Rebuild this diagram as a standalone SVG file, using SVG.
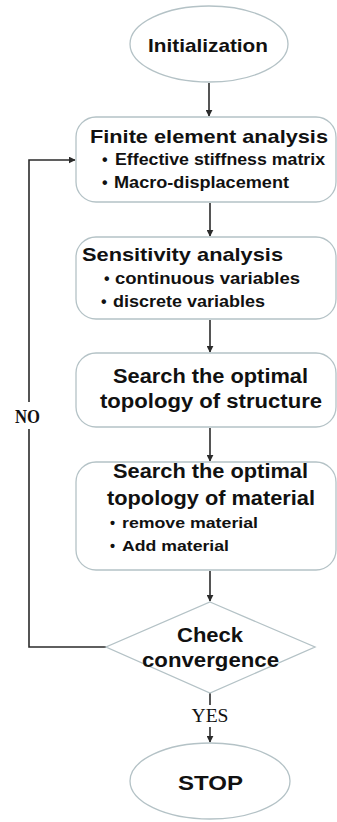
<svg xmlns="http://www.w3.org/2000/svg" width="337" height="822" viewBox="0 0 337 822">
  <style>
    .node { fill: #ffffff; stroke: #b4c2c6; stroke-width: 1.3; }
    .edge { fill: none; stroke: #2b2b2b; stroke-width: 1.6; }
    .t { font-family: "Liberation Sans", Arial, sans-serif; font-weight: bold; fill: #111111; }
    .title { font-size: 18.5px; }
    .big { font-size: 19.5px; }
    .item { font-size: 16px; }
    .small { font-size: 14.5px; }
    .lbl { font-family: "Liberation Serif", "Times New Roman", serif; font-size: 19px; fill: #111111; }
  </style>
  <defs>
    <marker id="arrow" viewBox="0 0 10 10" refX="9" refY="5" markerWidth="7" markerHeight="7" markerUnits="userSpaceOnUse" orient="auto">
      <path d="M0,0 L10,5 L0,10 z" fill="#2b2b2b"/>
    </marker>
  </defs>

  <rect width="337" height="822" fill="#ffffff"/>

  <!-- connectors -->
  <g id="connectors">
    <line class="edge" x1="209" y1="83" x2="209" y2="116" marker-end="url(#arrow)"/>
    <line class="edge" x1="210" y1="203" x2="210" y2="236" marker-end="url(#arrow)"/>
    <line class="edge" x1="210" y1="320" x2="210" y2="352" marker-end="url(#arrow)"/>
    <line class="edge" x1="210" y1="428" x2="210" y2="461" marker-end="url(#arrow)"/>
    <line class="edge" x1="210" y1="571" x2="210" y2="601" marker-end="url(#arrow)"/>
    <!-- YES branch -->
    <line class="edge" x1="210" y1="693" x2="210" y2="705"/>
    <line class="edge" x1="210" y1="727" x2="210" y2="742" marker-end="url(#arrow)"/>
    <!-- NO loop back -->
    <polyline class="edge" points="106,647 29,647 29,429"/>
    <polyline class="edge" points="29,402 29,160 75,160" marker-end="url(#arrow)"/>
    <text class="lbl" x="27.5" y="423" text-anchor="middle" font-weight="bold" textLength="25" lengthAdjust="spacingAndGlyphs">NO</text>
    <text class="lbl" x="210" y="722" text-anchor="middle" textLength="37" lengthAdjust="spacingAndGlyphs">YES</text>
  </g>

  <g id="initialization">
    <ellipse class="node" cx="209" cy="44" rx="79" ry="38"/>
    <text class="t" x="208" y="52" font-size="19" text-anchor="middle" textLength="120" lengthAdjust="spacingAndGlyphs">Initialization</text>
  </g>

  <g id="fea">
    <rect class="node" x="76" y="117" width="260" height="85" rx="20"/>
    <text class="t title" x="90" y="143" textLength="238" lengthAdjust="spacingAndGlyphs">Finite element analysis</text>
    <text class="t item" x="102" y="165">•</text>
    <text class="t item" x="115" y="165" textLength="210" lengthAdjust="spacingAndGlyphs">Effective stiffness matrix</text>
    <text class="t item" x="102" y="188">•</text>
    <text class="t item" x="114" y="188" textLength="175" lengthAdjust="spacingAndGlyphs">Macro-displacement</text>
  </g>

  <g id="sensitivity">
    <rect class="node" x="76" y="237" width="260" height="82" rx="20"/>
    <text class="t title" x="82" y="261" textLength="201" lengthAdjust="spacingAndGlyphs">Sensitivity analysis</text>
    <text class="t item" x="104" y="284">•</text>
    <text class="t item" x="115" y="284" textLength="185" lengthAdjust="spacingAndGlyphs">continuous  variables</text>
    <text class="t item" x="101" y="307">•</text>
    <text class="t item" x="113" y="307" textLength="152" lengthAdjust="spacingAndGlyphs">discrete variables</text>
  </g>

  <g id="structure">
    <rect class="node" x="76" y="353" width="260" height="74" rx="20"/>
    <text class="t big" x="210.5" y="383" text-anchor="middle" textLength="195" lengthAdjust="spacingAndGlyphs">Search the optimal</text>
    <text class="t big" x="211" y="408" text-anchor="middle" textLength="222" lengthAdjust="spacingAndGlyphs">topology of structure</text>
  </g>

  <g id="material">
    <rect class="node" x="76" y="462" width="260" height="108" rx="20"/>
    <text class="t big" x="210.5" y="478" text-anchor="middle" textLength="195" lengthAdjust="spacingAndGlyphs">Search the optimal</text>
    <text class="t big" x="211" y="505" text-anchor="middle" textLength="208" lengthAdjust="spacingAndGlyphs">topology of material</text>
    <text class="t small" x="110" y="528">•</text>
    <text class="t small" x="122" y="528" textLength="136" lengthAdjust="spacingAndGlyphs">remove material</text>
    <text class="t small" x="110" y="551">•</text>
    <text class="t small" x="122" y="551" textLength="107" lengthAdjust="spacingAndGlyphs">Add material</text>
  </g>

  <g id="convergence">
    <path class="node" d="M210,602 L315,647 L210,693 L106,647 Z"/>
    <text class="t big" x="210" y="642" text-anchor="middle" textLength="66" lengthAdjust="spacingAndGlyphs">Check</text>
    <text class="t big" x="210.5" y="667" text-anchor="middle" textLength="137" lengthAdjust="spacingAndGlyphs">convergence</text>
  </g>

  <g id="stop">
    <ellipse class="node" cx="210" cy="781" rx="80" ry="38"/>
    <text class="t" x="210.5" y="790" font-size="20" text-anchor="middle" textLength="65" lengthAdjust="spacingAndGlyphs">STOP</text>
  </g>
</svg>
